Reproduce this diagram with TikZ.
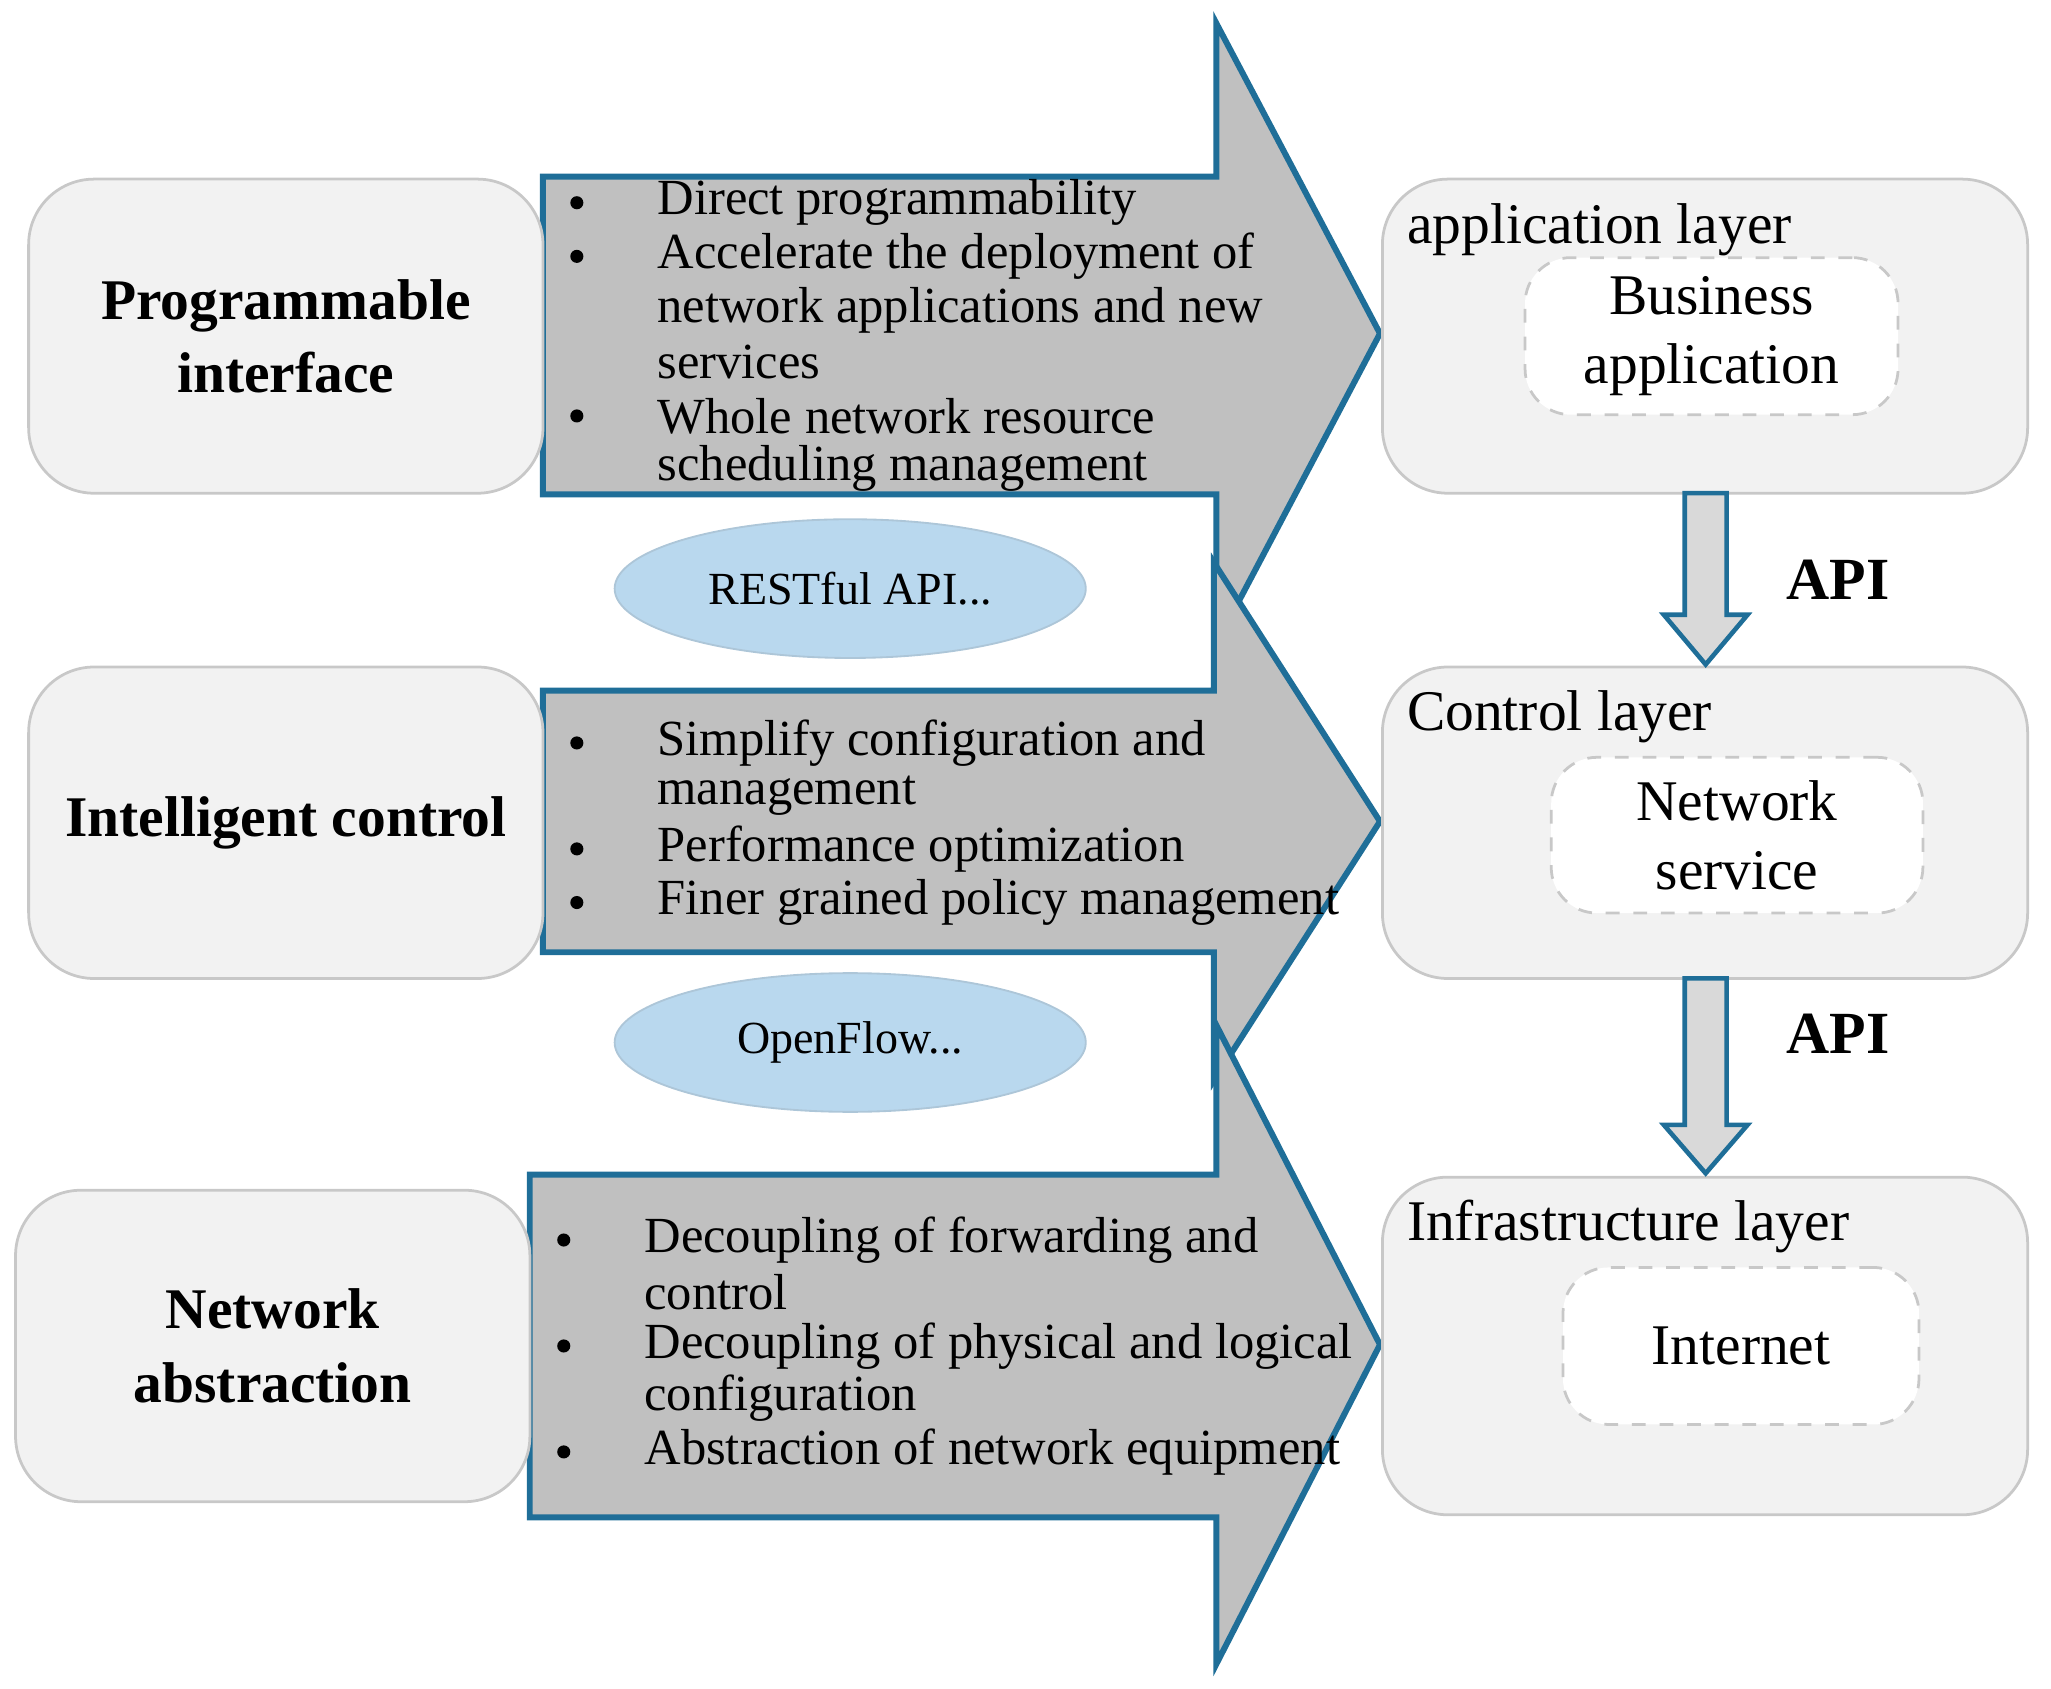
\documentclass[tikz,border=0pt]{standalone}
\usepackage{fontspec}
\setmainfont{Liberation Serif}
\usetikzlibrary{shapes.geometric}
\definecolor{arrb}{HTML}{1F6E98}
\definecolor{arrf}{HTML}{C0C0C0}
\definecolor{boxf}{HTML}{F2F2F2}
\definecolor{boxd}{HTML}{C8C8C8}
\definecolor{ellf}{HTML}{B9D8EE}
\tikzset{
 x=0.01cm,y=-0.01cm,
 bigarrow/.style={fill=arrf,draw=arrb,line width=1.3pt,line join=miter},
 lbox/.style={fill=boxf,draw=boxd,line width=0.6pt,rounded corners=0.5cm},
 inbox/.style={fill=white,draw=boxd,dashed,line width=0.6pt,rounded corners=0.35cm},
 ell/.style={ellipse,fill=ellf,draw=ellf!80!gray,minimum width=3.6cm,minimum height=1.06cm,inner sep=0pt,font=\fontsize{10}{12}\selectfont},
 bl/.style={anchor=west,inner sep=0pt,font=\fontsize{11}{13}\selectfont},
 bul/.style={circle,fill=black,inner sep=0pt,minimum size=0.1cm},
 big/.style={align=center,inner sep=0pt,font=\bfseries\fontsize{12.5}{16}\selectfont},
 ttl/.style={anchor=west,inner sep=0pt,font=\fontsize{12.5}{15}\selectfont},
 intx/.style={align=center,font=\fontsize{12.5}{15}\selectfont},
 darr/.style={fill=black!15,draw=arrb,line width=1pt},
 api/.style={font=\bfseries\fontsize{13}{16}\selectfont}
}
\begin{document}
\begin{tikzpicture}
\useasboundingbox (0,0) rectangle (1568,1291);
% big arrows
\draw[bigarrow] (415,135) -- (930,135) -- (930,18) -- (1055,255) -- (930,492) -- (930,378) -- (415,378) -- cycle;
\draw[bigarrow] (415,528) -- (928,528) -- (928,430) -- (1055,628) -- (928,826) -- (928,728) -- (415,728) -- cycle;
\draw[bigarrow] (405,898) -- (930,898) -- (930,784) -- (1055,1028) -- (930,1272) -- (930,1160) -- (405,1160) -- cycle;
% left boxes
\node[lbox,minimum width=3.93cm,minimum height=2.4cm,big] (pi) at (218.5,257) {Programmable\\interface};
\node[lbox,minimum width=3.93cm,minimum height=2.38cm,big] (ic) at (218.5,629) {Intelligent control};
\node[lbox,minimum width=3.93cm,minimum height=2.38cm,big] (na) at (208.5,1029) {Network\\abstraction};
% ellipses
\node[ell] (rest) at (650,450) {RESTful API...};
\node[ell] (of) at (650,797) {OpenFlow...};
% bullets
\foreach \y/\b/\t in {155/1/Direct programmability,196/1/Accelerate the deployment of,237/0/network applications and new,277/0/services,318/1/Whole network resource,358/0/scheduling management}{
 \ifnum\b=1 \node[bul] at (441,\y) {};\fi
 \node[bl] at (502,\y) {\t};}
\foreach \y/\b/\t in {568/1/Simplify configuration and,608/0/management,649/1/Performance optimization,690/1/Finer grained policy management}{
 \ifnum\b=1 \node[bul] at (441,\y) {};\fi
 \node[bl] at (502,\y) {\t};}
\foreach \y/\b/\t in {948/1/Decoupling of forwarding and,988/0/control,1029/1/Decoupling of physical and logical,1069/0/configuration,1110/1/Abstraction of network equipment}{
 \ifnum\b=1 \node[bul] at (431,\y) {};\fi
 \node[bl] at (492,\y) {\t};}
% right boxes
\node[lbox,minimum width=4.93cm,minimum height=2.4cm] (al) at (1303.5,257) {};
\node[lbox,minimum width=4.93cm,minimum height=2.38cm] (cl) at (1303.5,629) {};
\node[lbox,minimum width=4.93cm,minimum height=2.58cm] (il) at (1303.5,1029) {};
\node[ttl] at (1075,176) {application layer};
\node[ttl] at (1075,548) {Control layer};
\node[ttl] at (1075,938) {Infrastructure layer};
\node[inbox,minimum width=2.85cm,minimum height=1.2cm,intx] (ba) at (1308.5,257) {Business\\application};
\node[inbox,minimum width=2.84cm,minimum height=1.19cm,intx] (ns) at (1328,638.5) {Network\\service};
\node[inbox,minimum width=2.72cm,minimum height=1.2cm,intx] (in) at (1331,1029) {Internet};
% down arrows
\draw[darr] (1288,377) -- (1320,377) -- (1320,470) -- (1336,470) -- (1304,508) -- (1272,470) -- (1288,470) -- cycle;
\draw[darr] (1288,748) -- (1320,748) -- (1320,860) -- (1336,860) -- (1304,897) -- (1272,860) -- (1288,860) -- cycle;
\node[api] (api1) at (1405,443) {API};
\node[api] (api2) at (1405,790) {API};
\end{tikzpicture}
\end{document}
